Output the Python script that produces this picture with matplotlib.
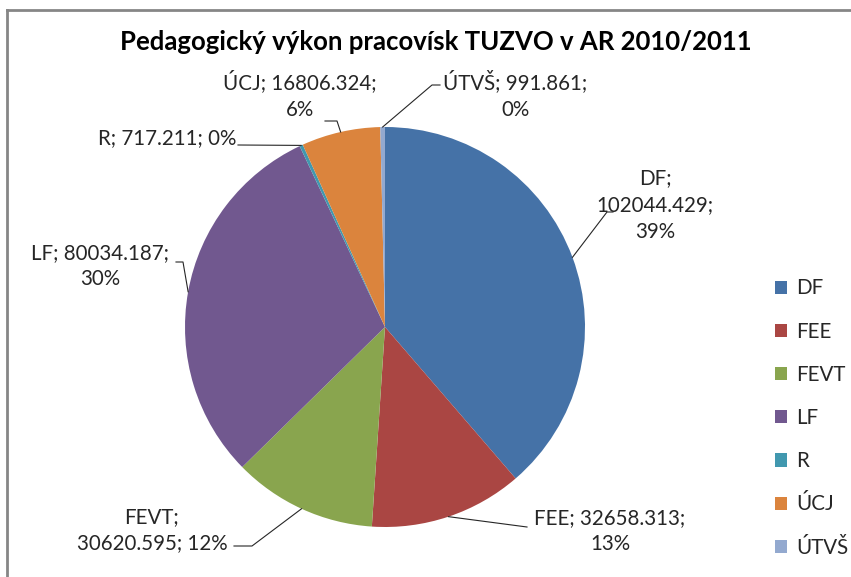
import matplotlib
matplotlib.use('Agg')
import matplotlib.pyplot as plt
from matplotlib.lines import Line2D
import numpy as np

plt.rcParams['font.family'] = ['Lato', 'DejaVu Sans']

categories = ['DF', 'FEE', 'FEVT', 'LF', 'R', 'ÚCJ', 'ÚTVŠ']
values = [102044.429, 32658.313, 30620.595, 80034.187, 717.211, 16806.324, 991.861]
colors = ['#4572A7', '#AA4643', '#89A54E', '#71588F', '#4198AF', '#DB843D', '#93A9CF']
title = 'Pedagogický výkon pracovísk TUZVO v AR 2010/2011'

W, H = 851, 577
CX, CY, RAD = 385, 327, 200
FS = 14.8

def px(x, y):
    # image pixel -> pie data coords
    return (x - CX) / RAD, (CY - y) / RAD

# percentages rounded so they add up to 100 (like Excel does)
raw = np.array(values) / sum(values) * 100
pcts = np.floor(raw).astype(int)
rest = 100 - pcts.sum()
for i in np.argsort(-(raw - np.floor(raw)))[:rest]:
    pcts[i] += 1

fig = plt.figure(figsize=(W / 100, H / 100), dpi=100)
fig.patch.set_facecolor('white')
ax = fig.add_axes([(CX - RAD) / W, (H - CY - RAD) / H, 2 * RAD / W, 2 * RAD / H])

wedges, _ = ax.pie(values, colors=colors, startangle=90, counterclock=False,
                   radius=1, wedgeprops=dict(linewidth=0))
ax.set_xlim(-1, 1)
ax.set_ylim(-1, 1)
ax.set_aspect('equal')
ax.axis('off')

# label text layout: (line break pattern, text x, text y, ha), leader elbow points
layout = {
    'DF':   ('{c};\n{v};\n{p}',   655, 205, 'center', [(607, 212), (613, 212)]),
    'FEE':  ('{c}; {v};\n{p}',    610, 531, 'center', [(527, 527)]),
    'FEVT': ('{c};\n{v}; {p}',    152, 530, 'center', [(252, 546), (234, 546)]),
    'LF':   ('{c}; {v};\n{p}',    100, 266, 'center', [(183, 262), (176, 262)]),
    'R':    ('{c}; {v}; {p}',     236, 138, 'right',  [(238, 145)]),
    'ÚCJ':  ('{c}; {v};\n{p}',    300, 95,  'center', [(337, 121), (325, 121)]),
    'ÚTVŠ': ('{c}; {v};\n{p}',    515, 95,  'center', [(432, 85), (440, 85)]),
}

for w, c, v, p in zip(wedges, categories, values, pcts):
    fmt, tx, ty, ha, pts = layout[c]
    txt = fmt.format(c=c, v='{:.3f}'.format(v), p='{}%'.format(p))
    ax.text(*px(tx, ty), txt, ha=ha, va='center', fontsize=FS,
            color='#262626', linespacing=1.42, clip_on=False)
    a = np.deg2rad((w.theta1 + w.theta2) / 2)
    xs = [np.cos(a)] + [px(*q)[0] for q in pts]
    ys = [np.sin(a)] + [px(*q)[1] for q in pts]
    ax.plot(xs, ys, color='#262626', lw=0.8, clip_on=False)

fig.text(436 / W, 1 - 42 / H, title, ha='center', va='center',
         fontsize=18.5, fontweight='bold', color='black')

fig.legend(wedges, categories, loc='center left',
           bbox_to_anchor=(756 / W, 1 - 418 / H), frameon=False,
           fontsize=FS, handlelength=0.6, handleheight=0.6,
           handletextpad=0.45, labelspacing=1.13, labelcolor='#262626')

fig.add_artist(Line2D([7 / W, 1], [1 - 10 / H, 1 - 10 / H], color='#868686', lw=2))
fig.add_artist(Line2D([7 / W, 7 / W], [0, 1 - 10 / H], color='#868686', lw=2))

fig.savefig('out.png', dpi=100)
